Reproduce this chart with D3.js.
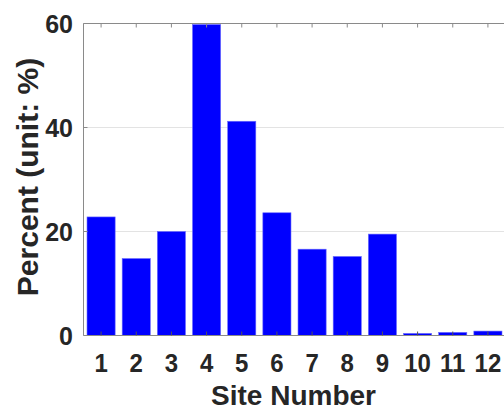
<!DOCTYPE html>
<html><head><meta charset="utf-8">
<script src="https://cdn.jsdelivr.net/npm/d3@7"></script>
<style>body{margin:0;background:#fff}svg{display:block}text{font-family:"Liberation Sans",Arial,sans-serif;font-weight:bold;fill:#262626}</style>
</head><body><svg id="c" width="504" height="412"></svg>
<script>
const sites = [1,2,3,4,5,6,7,8,9,10,11,12];
const percent = [22.8,14.8,20.0,59.8,41.2,23.6,16.6,15.2,19.5,0.4,0.6,0.85];
const yTicks = [0,20,40,60];

const svg = d3.select("#c");
const L=83.5, R=505.5, T=23.5, B=335.5;
const x = d3.scaleLinear().domain([0.5,12.5]).range([L,R]);
const y = d3.scaleLinear().domain([0,60]).range([B,T]);
const bw = (x(1)-x(0))*0.8;

svg.append("g").selectAll("line").data(yTicks.filter(d=>d>0&&d<60)).join("line")
  .attr("x1",L).attr("x2",R).attr("y1",d=>y(d)).attr("y2",d=>y(d))
  .attr("stroke","#e3e3e3").attr("stroke-width",1);

svg.append("g").selectAll("rect").data(sites).join("rect")
  .attr("x",(d)=>x(d)-bw/2).attr("width",bw)
  .attr("y",(d,i)=>y(percent[i])).attr("height",(d,i)=>B-y(percent[i]))
  .attr("fill","#0000ff").attr("stroke","#6a6aff").attr("stroke-width",0.6);

const ax = svg.append("g");
ax.append("line").attr("x1",L).attr("x2",R).attr("y1",B).attr("y2",B).attr("stroke","#8a8a8a");
ax.append("line").attr("x1",L).attr("x2",R).attr("y1",T).attr("y2",T).attr("stroke","#8a8a8a");
ax.append("line").attr("x1",L).attr("x2",L).attr("y1",T).attr("y2",B).attr("stroke","#8a8a8a");
sites.forEach(d=>{
  ax.append("line").attr("x1",x(d)).attr("x2",x(d)).attr("y1",B).attr("y2",B-4).attr("stroke","#555");
  ax.append("line").attr("x1",x(d)).attr("x2",x(d)).attr("y1",T).attr("y2",T+4).attr("stroke","#8a8a8a");
});
yTicks.forEach(d=>{
  ax.append("line").attr("x1",L).attr("x2",L+4).attr("y1",y(d)).attr("y2",y(d)).attr("stroke","#8a8a8a");
});

svg.append("g").selectAll("text").data(sites).join("text")
  .attr("x",d=>x(d)).attr("y",372).attr("text-anchor","middle")
  .attr("font-size",24).attr("transform",d=>`translate(${x(d)},372) scale(1,1.08) translate(${-x(d)},-372)`).text(d=>d);
svg.append("g").selectAll("text").data(yTicks).join("text")
  .attr("x",73).attr("y",d=>y(d)+9).attr("text-anchor","end")
  .attr("font-size",25).text(d=>d);

svg.append("text").attr("x",(L+R)/2-1).attr("y",405).attr("text-anchor","middle")
  .attr("font-size",28).text("Site Number");
svg.append("text").attr("transform","translate(38,177) rotate(-90)").attr("text-anchor","middle")
  .attr("font-size",30).text("Percent (unit: %)");
</script></body></html>
